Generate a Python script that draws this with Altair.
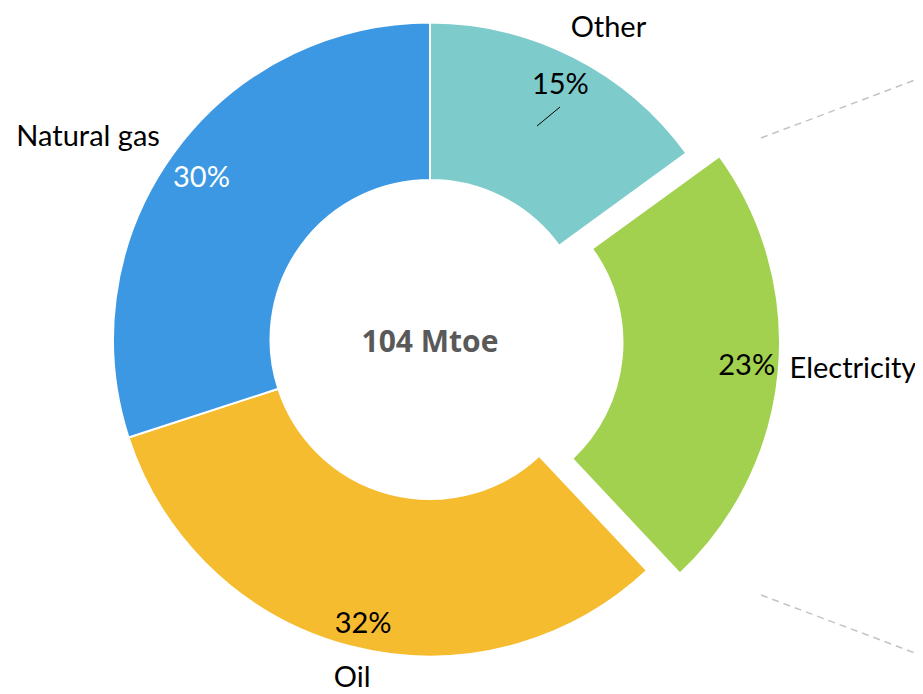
import altair as alt
import pandas as pd

# ---- data ----
categories = ["Other", "Electricity", "Oil", "Natural gas"]
shares = [15, 23, 32, 30]
colors = ["#7ECBCC", "#A2D04F", "#F6BC30", "#3C98E2"]
center_label = "104 Mtoe"
exploded = "Electricity"

df = pd.DataFrame({"category": categories, "share": shares,
                   "order": list(range(len(categories)))})
df["pct"] = df["share"].astype(str) + "%"

# ---- layout ----
CX, CY = 422, 331.5
EX, EY = CX + 33, CY + 3
R_OUT, R_IN = 317, 159.5
FONT = "Lato"
FS = 29

base = alt.Chart(df).encode(
    theta=alt.Theta("share:Q", stack=True),
    order=alt.Order("order:Q"),
    detail="category:N",
)

color = alt.Color("category:N", scale=alt.Scale(domain=categories, range=colors), legend=None)


def arc_layer(cx, cy, show_exploded):
    cond = alt.datum.category == exploded
    op = alt.condition(cond, alt.value(1), alt.value(0)) if show_exploded else \
        alt.condition(cond, alt.value(0), alt.value(1))
    return base.mark_arc(outerRadius=R_OUT, innerRadius=R_IN, stroke="white", strokeWidth=2).encode(
        color=color, x=alt.value(cx), y=alt.value(cy), opacity=op)


def label(name, field, radius, align, dx, dy, fill="black"):
    cx, cy = (EX, EY) if name == exploded else (CX, CY)
    return base.mark_text(radius=radius, align=align, baseline="alphabetic", dx=dx, dy=dy,
                          font=FONT, fontSize=FS, color=fill).encode(
        text=f"{field}:N", x=alt.value(cx), y=alt.value(cy),
        opacity=alt.condition(alt.datum.category == name, alt.value(1), alt.value(0)))


layers = [
    arc_layer(CX, CY, False),
    arc_layer(EX, EY, True),
    # percentages
    label("Other", "pct", 285, "center", 1, 8),
    label("Natural gas", "pct", 285, "center", 2, 15, fill="white"),
    label("Oil", "pct", 285, "center", 4, 17),
    label("Electricity", "pct", 285, "center", 0, 6),
    # category names
    label("Other", "category", 360, "center", 15, 18),
    label("Natural gas", "category", 340, "right", 5, 6),
    label("Oil", "category", 349, "center", 9, 9),
    label("Electricity", "category", 328, "left", 0, 5),
]

one = alt.Data(values=[{"k": 1}])

leader = alt.Chart(one).mark_rule(color="black", strokeWidth=1).encode(
    x=alt.value(529), y=alt.value(118), x2=alt.value(552), y2=alt.value(99))

dash_top = alt.Chart(one).mark_rule(color="#C4C4C4", strokeWidth=1.5, strokeDash=[7, 5]).encode(
    x=alt.value(753), y=alt.value(130), x2=alt.value(915), y2=alt.value(69))
dash_bot = alt.Chart(one).mark_rule(color="#C4C4C4", strokeWidth=1.5, strokeDash=[7, 5]).encode(
    x=alt.value(753), y=alt.value(587), x2=alt.value(915), y2=alt.value(648))

center = alt.Chart(one).mark_text(text=center_label, font="Open Sans", fontWeight="bold",
                                   fontSize=30, color="#595959", align="center",
                                   baseline="alphabetic").encode(
    x=alt.value(CX), y=alt.value(344))

chart = alt.layer(*layers, leader, dash_top, dash_bot, center).properties(
    width=907, height=686, autosize=alt.AutoSizeParams(type="none"), padding=0,
).configure_view(stroke=None)

chart.save("out.html", embed_options={"renderer": "svg", "actions": False})
